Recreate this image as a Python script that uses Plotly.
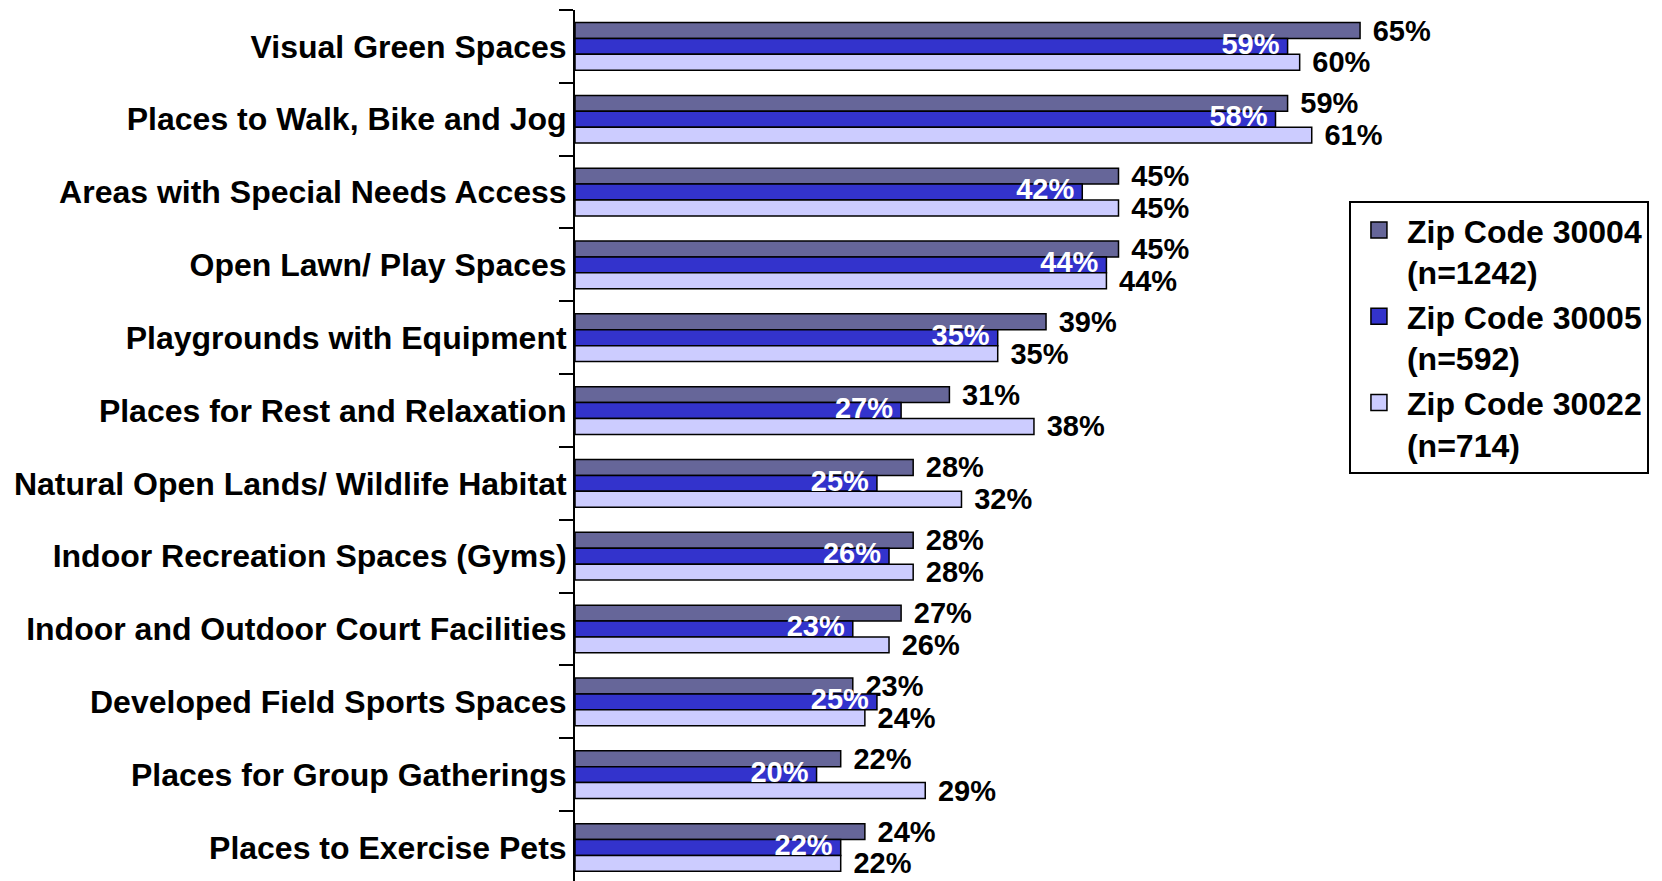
import plotly.graph_objects as go

categories = [
    "Visual Green Spaces",
    "Places to Walk, Bike and Jog",
    "Areas with Special Needs Access",
    "Open Lawn/ Play Spaces",
    "Playgrounds with Equipment",
    "Places for Rest and Relaxation",
    "Natural Open Lands/ Wildlife Habitat",
    "Indoor Recreation Spaces (Gyms)",
    "Indoor and Outdoor Court Facilities",
    "Developed Field Sports Spaces",
    "Places for Group Gatherings",
    "Places to Exercise Pets",
]
zip_30004 = [65, 59, 45, 45, 39, 31, 28, 28, 27, 23, 22, 24]
zip_30005 = [59, 58, 42, 44, 35, 27, 25, 26, 23, 25, 20, 22]
zip_30022 = [60, 61, 45, 44, 35, 38, 32, 28, 26, 24, 29, 22]
series_names = ["Zip Code 30004<br>(n=1242)", "Zip Code 30005<br>(n=592)",
                "Zip Code 30022<br>(n=714)"]
colors = ["#666699", "#3333CC", "#CCCCFF"]

FONT = "Arial, Liberation Sans, sans-serif"

fig = go.Figure()
for name, vals, col, has_text in zip(series_names, [zip_30004, zip_30005, zip_30022], colors,
                                     [True, False, True]):
    fig.add_trace(go.Bar(
        y=categories, x=vals, name=name, orientation="h",
        marker=dict(color=col, line=dict(color="black", width=1.5)),
        text=["\u2004%d%%" % v for v in vals] if has_text else None,
        textposition="outside" if has_text else "none",
        textfont=dict(family=FONT, size=29, color="black", weight="bold"),
        constraintext="none", cliponaxis=False,
        hoverinfo="skip", showlegend=False,
    ))

# white labels for the middle (30005) bars, drawn on top of all bars
fig.add_trace(go.Scatter(
    y=categories, x=zip_30005, mode="text",
    text=["%d%%\u00a0" % v for v in zip_30005],
    textposition="middle left",
    textfont=dict(family=FONT, size=29, color="white", weight="bold"),
    showlegend=False, hoverinfo="skip", cliponaxis=False,
))

# legend entries (square swatches)
for name, col in zip(series_names, colors):
    fig.add_trace(go.Scatter(
        x=[None], y=[None], mode="markers", name=name,
        marker=dict(symbol="square", size=16, color=col, line=dict(color="black", width=1.5)),
        hoverinfo="skip",
    ))

fig.update_layout(
    width=1654, height=873,
    margin=dict(l=567, r=0, t=2, b=0),
    barmode="group", bargap=0.345, bargroupgap=0,
    plot_bgcolor="white", paper_bgcolor="white",
    font=dict(family=FONT, color="black"),
    legend=dict(
        x=0.712, y=0.781, xanchor="left", yanchor="top",
        bordercolor="black", borderwidth=2, bgcolor="white",
        font=dict(family=FONT, size=32, color="black", weight="bold"),
        valign="top", itemwidth=46, itemsizing="trace",
    ),
    showlegend=True,
)
fig.update_xaxes(range=[0, 90], visible=False, showgrid=False)
fig.update_yaxes(
    categoryorder="array", categoryarray=categories,
    range=[11.46, -0.5],
    showline=True, linecolor="black", linewidth=2,
    ticks="outside", tickson="boundaries", ticklen=14, tickwidth=2, tickcolor="black",
    tickfont=dict(family=FONT, size=32, color="black", weight="bold"),
    showgrid=False, zeroline=False,
)

fig.write_html("out.html")
